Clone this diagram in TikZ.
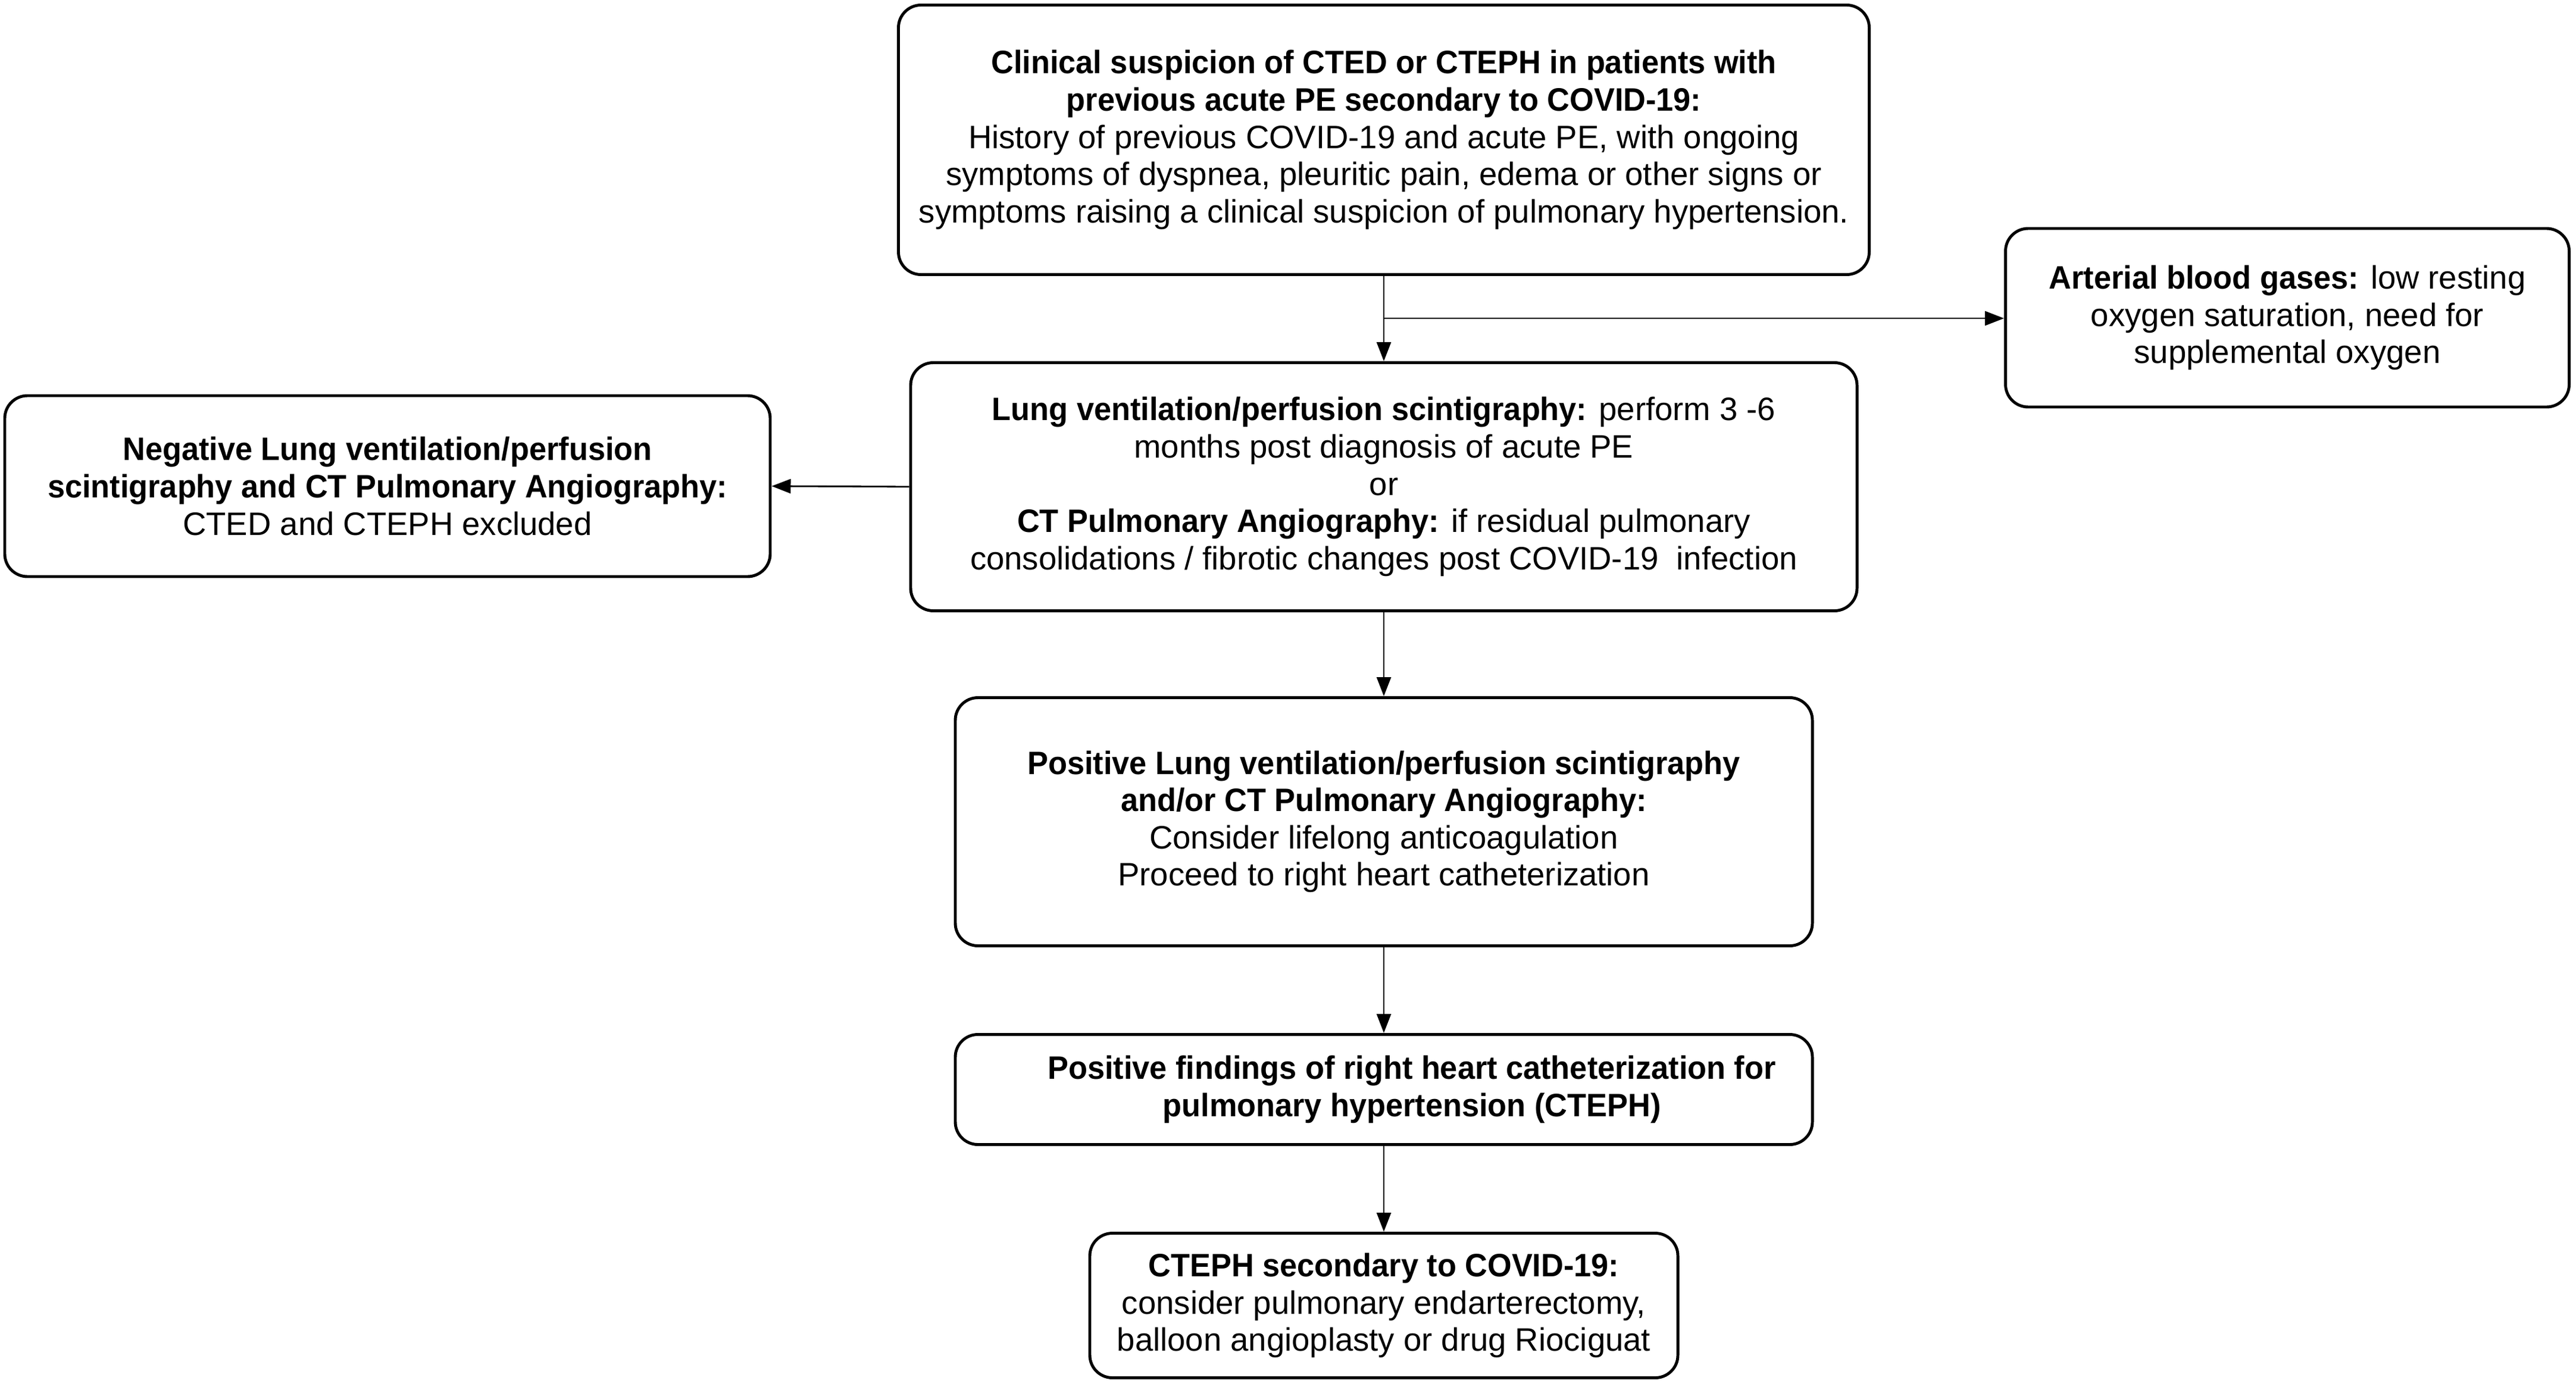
\documentclass[tikz,border=0pt]{standalone}
\usepackage{fontspec}
\setmainfont{Liberation Sans}[BoldFeatures={FakeStretch=0.96}]
\usetikzlibrary{arrows.meta}

\begin{document}
\begin{tikzpicture}
  \tikzset{Box/.style={draw, line width=1.4pt, rounded corners=0.38cm, align=center,
                       inner sep=0pt, font=\fontsize{15.5pt}{17.8pt}\selectfont},
           Flow/.style={line width=0.8pt, -{Triangle[length=0.32cm,width=0.24cm]}}}
  \useasboundingbox (0,0) rectangle (43.28,-23.30);
  %% nodes at fixed places, sizes
  \node[Box, minimum width=16.31cm, minimum height=4.53cm] (susp) at (23.25,-2.35)
    {\textbf{Clinical suspicion of CTED or CTEPH in patients with}\\
     \textbf{previous acute PE secondary to COVID-19:}\\
     History of previous COVID-19 and acute PE, with ongoing\\
     symptoms of dyspnea, pleuritic pain, edema or other signs or\\
     symptoms raising a clinical suspicion of pulmonary hypertension.};
  \node[Box, minimum width=9.47cm, minimum height=3.00cm] (abg) at (38.43,-5.34)
    {\textbf{Arterial blood gases:} low resting\\
     oxygen saturation, need for\\
     supplemental oxygen};
  \node[Box, minimum width=15.90cm, minimum height=4.17cm] (scan) at (23.25,-8.18)
    {\textbf{Lung ventilation/perfusion scintigraphy:} perform 3 -6\\
     months post diagnosis of acute PE\\
     or\\
     \textbf{CT Pulmonary Angiography:} if residual pulmonary\\
     consolidations / fibrotic changes post COVID-19~~infection};
  \node[Box, minimum width=12.86cm, minimum height=3.04cm] (neg) at (6.51,-8.17)
    {\textbf{Negative Lung ventilation/perfusion}\\
     \textbf{scintigraphy and CT Pulmonary Angiography:}\\
     CTED and CTEPH excluded};
  \node[Box, minimum width=14.40cm, minimum height=4.17cm] (pos) at (23.25,-13.81)
    {\textbf{Positive Lung ventilation/perfusion scintigraphy}\\
     \textbf{and/or CT Pulmonary Angiography:}\\
     Consider lifelong anticoagulation\\
     Proceed to right heart catheterization};
  \node[Box, minimum width=14.40cm, minimum height=1.85cm] (rhc) at (23.25,-18.31) {};
  \node[align=center, inner sep=0pt, font=\fontsize{15.5pt}{17.8pt}\selectfont\bfseries]
    (rhctext) at ([xshift=0.47cm]rhc.center)
    {Positive findings of right heart catheterization for\\
     pulmonary hypertension (CTEPH)};
  \node[Box, minimum width=9.88cm, minimum height=2.43cm] (cteph) at (23.25,-21.94)
    {\textbf{CTEPH secondary to COVID-19:}\\
     consider pulmonary endarterectomy,\\
     balloon angioplasty or drug Riociguat};
  \coordinate (split) at (23.25,-5.35);
  %% connectors
  \draw[Flow] (susp) -- (scan);
  \draw[Flow] (split) -- (split -| abg.west);
  \draw[Flow] (scan.west) -- (neg.east);
  \draw[Flow] (scan) -- (pos);
  \draw[Flow] (pos) -- (rhc);
  \draw[Flow] (rhc) -- (cteph);
\end{tikzpicture}
\end{document}
